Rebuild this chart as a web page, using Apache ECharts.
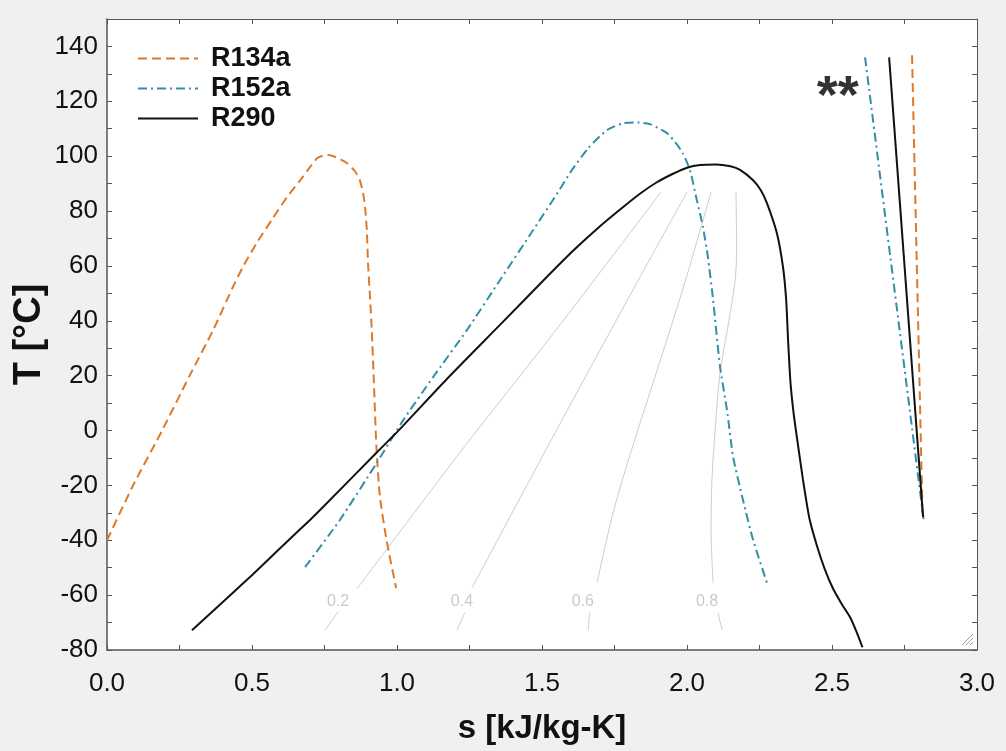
<!DOCTYPE html>
<html><head><meta charset="utf-8">
<script src="https://cdn.jsdelivr.net/npm/echarts@6.0.0/dist/echarts.min.js"></script>
<style>html,body{margin:0;padding:0;background:#f0f0f0;}#c{width:1006px;height:751px;}</style>
</head><body><div id="c"></div>
<script>
// ---- data (s [kJ/kg-K], T [°C]) ----
const seriesNames = ['R134a', 'R152a', 'R290'];
const r134aDome = [[0,-40],[0.09,-20],[0.19,0],[0.285,20],[0.366,36.6],[0.434,52.3],[0.469,59.7],[0.52,69],[0.572,77.4],[0.62,85],[0.666,91.2],[0.7,96],[0.724,99.2],[0.745,100.2],[0.762,100.4],[0.79,99.6],[0.828,97.4],[0.855,94.5],[0.872,91.2],[0.884,86],[0.89,81.4],[0.896,73],[0.9,61],[0.907,48.7],[0.913,36.6],[0.92,18.4],[0.929,-6],[0.941,-24],[0.964,-40],[0.997,-57.4]];
const r134aLine = [[2.776,136.8],[2.812,-30]];
const r152aDome = [[0.683,-49.8],[0.803,-32.6],[0.93,-11.8],[1.021,3.7],[1.124,19.4],[1.241,36.6],[1.355,54.8],[1.469,73],[1.55,86],[1.603,94.9],[1.66,103],[1.724,109.5],[1.78,112],[1.83,112.3],[1.872,111.7],[1.931,108.4],[1.96,105],[1.986,101],[2.01,95],[2.034,84],[2.055,74.2],[2.072,63.3],[2.09,47.6],[2.114,23.2],[2.138,7.4],[2.159,-9.6],[2.193,-25.3],[2.228,-39.9],[2.276,-55.6]];
const r152aLine = [[2.614,136],[2.817,-33.3]];
const r290Dome = [[0.293,-72.8],[0.493,-53.4],[0.597,-42.9],[0.7,-32.6],[0.745,-27.9],[0.931,-7.9],[1.0,-0.6],[1.172,18.8],[1.355,38.5],[1.503,54.5],[1.607,65.5],[1.7,74.5],[1.78,81.5],[1.84,86.5],[1.896,90.5],[1.95,93.5],[2.0,95.8],[2.045,96.8],[2.1,97],[2.15,96.3],[2.183,95],[2.228,91.2],[2.255,87.5],[2.276,82.8],[2.31,71.9],[2.331,59.6],[2.342,47.6],[2.349,32],[2.357,17.3],[2.368,6],[2.381,-4],[2.4,-18],[2.422,-32],[2.448,-42],[2.475,-50.5],[2.503,-57.5],[2.535,-63.5],[2.562,-68],[2.585,-73.5],[2.605,-79]];
const r290Line = [[2.697,136],[2.814,-31.5]];
// quality lines (upper and lower pieces, broken around the label)
const q02Upper = [[1.91,86.9],[1.562,38.5],[1.217,-8],[0.862,-57.7]];
const q02Lower = [[0.797,-66],[0.752,-72.8]];
const q04Upper = [[2.0,86.9],[1.831,54.6],[1.562,2.5],[1.259,-57.3]];
const q04Lower = [[1.234,-66.3],[1.207,-72.8]];
const q06Upper = [[2.083,86.9],[1.995,54.8],[1.905,24.6],[1.812,-6],[1.745,-30],[1.69,-55.5]];
const q06Lower = [[1.664,-66.3],[1.659,-72.8]];
const q08Upper = [[2.169,86.9],[2.171,65.7],[2.166,54.8],[2.145,40.3],[2.114,20.9],[2.097,0.1],[2.086,-18.1],[2.083,-36.3],[2.09,-55.6]];
const q08Lower = [[2.107,-66.5],[2.121,-72.8]];
const qLabels = ['0.2','0.4','0.6','0.8'];
const qLabelS = [0.797,1.224,1.641,2.069];
const qLabelT = [-62.2,-62.2,-62.2,-62.2];
const noteText = '**';
const notePos = [2.52,121];
const xTickLabels = ['0.0','0.5','1.0','1.5','2.0','2.5','3.0'];
const yTickLabels = ['-80','-60','-40','-20','0','20','40','60','80','100','120','140'];

// ---- styles ----
const cOrange = '#dc7a2c', cBlue = '#348ea4', cBlack = '#111111', cGray = '#cdcdcd';
const axisColor = '#555555';
const fontFam = '"Liberation Sans", Arial, sans-serif';

function curve(name, data, color, type, z) {
  return { name, type: 'line', data, symbol: 'none', smooth: 0.2, z: z || 3,
    lineStyle: { color, width: 2, type }, itemStyle: { color }, emphasis: { disabled: true } };
}
function qline(data) {
  return { type: 'line', data, symbol: 'none', smooth: 0.3, z: 1, silent: true,
    lineStyle: { color: cGray, width: 1 }, emphasis: { disabled: true } };
}
const dashO = [9, 5], dashB = [9, 4, 2, 4];

const chart = echarts.init(document.getElementById('c'));
const tickCommon = { show: true, inside: true, length: 5, lineStyle: { color: axisColor } };
chart.setOption({
  animation: false,
  backgroundColor: '#f0f0f0',
  textStyle: { fontFamily: fontFam },
  grid: { left: 107, right: 29, top: 19, bottom: 101, show: true, backgroundColor: '#ffffff', borderWidth: 0,
    outerBoundsMode: 'none', containLabel: false },
  legend: {
    data: seriesNames, orient: 'vertical', left: 132, top: 40, itemWidth: 60, itemHeight: 14, itemGap: 3,
    itemStyle: { opacity: 0, borderWidth: 0 },
    textStyle: { fontSize: 27, fontWeight: 'bold', color: '#111', fontFamily: fontFam, padding: [0,0,0,8] }
  },
  xAxis: [{
    type: 'value', min: 0, max: 3, interval: 0.25, position: 'bottom',
    name: 's [kJ/kg-K]', nameLocation: 'middle', nameGap: 62,
    nameTextStyle: { fontSize: 33, fontWeight: 'bold', color: '#111', fontFamily: fontFam },
    axisLine: { show: true, onZero: false, lineStyle: { color: axisColor, width: 1.5 } },
    axisTick: tickCommon,
    axisLabel: { fontSize: 26, color: '#111', margin: 21, fontFamily: fontFam,
      formatter: v => { const t = v.toFixed(1); return (Math.abs(v*2 - Math.round(v*2)) < 1e-9 && xTickLabels.includes(t)) ? t : ''; } },
    splitLine: { show: false }
  }, {
    type: 'value', min: 0, max: 3, interval: 0.25, position: 'top',
    axisLine: { show: true, onZero: false, lineStyle: { color: axisColor, width: 1 } },
    axisTick: tickCommon, axisLabel: { show: false }, splitLine: { show: false }
  }],
  yAxis: [{
    type: 'value', min: -80, max: 150, interval: 10, position: 'left',
    name: 'T [°C]', nameLocation: 'middle', nameGap: 58, nameRotate: 90, nameMoveOverlap: false,
    nameTextStyle: { fontSize: 38, fontWeight: 'bold', color: '#111', fontFamily: fontFam },
    axisLine: { show: true, onZero: false, lineStyle: { color: axisColor, width: 1.5 } },
    axisTick: tickCommon,
    axisLabel: { fontSize: 26, color: '#111', margin: 9, fontFamily: fontFam,
      formatter: v => yTickLabels.includes(String(v)) ? String(v) : '' },
    splitLine: { show: false }
  }, {
    type: 'value', min: -80, max: 150, interval: 10, position: 'right',
    axisLine: { show: true, onZero: false, lineStyle: { color: axisColor, width: 1 } },
    axisTick: tickCommon, axisLabel: { show: false }, splitLine: { show: false }
  }],
  series: [
    qline(q02Upper), qline(q02Lower), qline(q04Upper), qline(q04Lower),
    qline(q06Upper), qline(q06Lower), qline(q08Upper), qline(q08Lower),
    { type: 'scatter', silent: true, symbolSize: 0, z: 2,
      data: qLabels.map((l, i) => ({ value: [qLabelS[i], qLabelT[i]], label: { formatter: l } })),
      label: { show: true, position: 'inside', fontSize: 16, color: '#bbbbbb', fontFamily: fontFam } },
    curve('R134a', r134aDome, cOrange, dashO),
    curve('R152a', r152aDome, cBlue, dashB),
    curve('R290', r290Dome, cBlack, 'solid', 4),
    curve('R134a', r134aLine, cOrange, dashO),
    curve('R152a', r152aLine, cBlue, dashB),
    curve('R290', r290Line, cBlack, 'solid', 4),
    { type: 'scatter', silent: true, symbolSize: 0, z: 5, data: [notePos],
      label: { show: true, position: 'inside', formatter: noteText, fontSize: 54, fontWeight: 'bold', color: '#000', fontFamily: fontFam } }
  ],
  graphic: [
    { type: 'line', shape: { x1: 962, y1: 645, x2: 973, y2: 634 }, style: { stroke: '#9a9a9a', lineWidth: 1 } },
    { type: 'line', shape: { x1: 966, y1: 645, x2: 973, y2: 638 }, style: { stroke: '#9a9a9a', lineWidth: 1 } },
    { type: 'line', shape: { x1: 970, y1: 645, x2: 973, y2: 642 }, style: { stroke: '#9a9a9a', lineWidth: 1 } }
  ]
});
</script></body></html>
